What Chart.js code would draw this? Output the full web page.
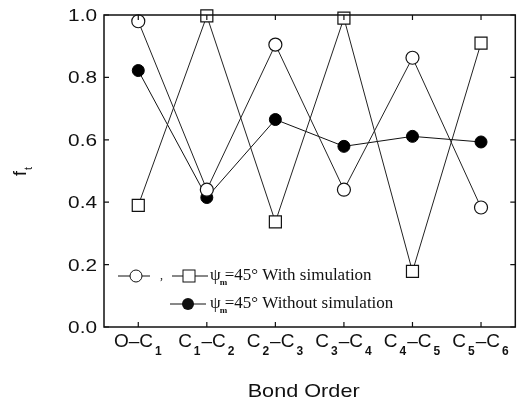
<!DOCTYPE html>
<html>
<head>
<meta charset="utf-8">
<script src="https://cdn.jsdelivr.net/npm/chart.js@4"></script>
<style>
  html, body { margin: 0; padding: 0; background: #fff; }
  #wrap { width: 525px; height: 403px; position: relative; }
</style>
</head>
<body>
<div id="wrap"><canvas id="ftChart"></canvas></div>
<script>
// bond positions along the chain
const bonds = ['O–C₁', 'C₁–C₂', 'C₂–C₃', 'C₃–C₄', 'C₄–C₅', 'C₅–C₆'];
// psi_m = 45 deg, with simulation (two branches: circles and squares)
const simCircles = [0.98, 0.44, 0.905, 0.44, 0.863, 0.383];
const simSquares = [0.39, 0.997, 0.337, 0.99, 0.178, 0.91];
// psi_m = 45 deg, without simulation
const noSim = [0.822, 0.415, 0.665, 0.579, 0.611, 0.593];
const yTicks = [0, 0.2, 0.4, 0.6, 0.8, 1.0];
const xTitle = 'Bond Order';

const sans = "'Liberation Sans', Arial, sans-serif";
const serif = "'Liberation Serif', 'Times New Roman', serif";
const subDigits = '₀₁₂₃₄₅₆₇₈₉';

// split "C₁–C₂" into normal and subscript runs
function splitLabel(str) {
    const parts = [];
    for (const ch of str) {
        const k = subDigits.indexOf(ch);
        const sub = k >= 0;
        const c = sub ? String(k) : ch;
        const last = parts[parts.length - 1];
        if (last && last.sub === sub) last.text += c;
        else parts.push({ text: c, sub });
    }
    return parts;
}

// text squeezed/stretched horizontally around its anchor
function wideText(ctx, text, x, y, sx) {
    ctx.save();
    ctx.translate(x, y);
    ctx.scale(sx, 1);
    ctx.fillText(text, 0, 0);
    ctx.restore();
}

// box around the plot with inward tick marks, plus axis text
const framePlugin = {
    id: 'frame',
    afterDraw(chart) {
        const { ctx, chartArea: a, scales } = chart;
        ctx.save();
        ctx.strokeStyle = '#111';
        ctx.lineWidth = 1.5;
        ctx.strokeRect(a.left, a.top, a.right - a.left, a.bottom - a.top);
        ctx.lineWidth = 1.2;
        ctx.beginPath();
        yTicks.forEach(v => {
            const y = scales.y.getPixelForValue(v);
            ctx.moveTo(a.left, y); ctx.lineTo(a.left + 5, y);
            ctx.moveTo(a.right, y); ctx.lineTo(a.right - 5, y);
        });
        bonds.forEach((b, i) => {
            const x = scales.x.getPixelForValue(i);
            ctx.moveTo(x, a.top); ctx.lineTo(x, a.top + 5);
            ctx.moveTo(x, a.bottom); ctx.lineTo(x, a.bottom - 5);
        });
        ctx.stroke();

        ctx.fillStyle = '#111';
        ctx.textBaseline = 'alphabetic';

        // y tick labels
        ctx.font = '16px ' + sans;
        ctx.textAlign = 'right';
        yTicks.forEach(v => {
            const y = scales.y.getPixelForValue(v);
            wideText(ctx, v.toFixed(1), a.left - 7, y + 6, 1.3);
        });

        // x tick labels with subscripts
        ctx.textAlign = 'left';
        bonds.forEach((b, i) => {
            const parts = splitLabel(b);
            let w = 0;
            parts.forEach(p => {
                ctx.font = p.sub ? 'bold 12px ' + sans : '19px ' + sans;
                p.w = ctx.measureText(p.text).width + (p.sub ? 3 : 0);
                w += p.w;
            });
            let x = scales.x.getPixelForValue(i) - w / 2;
            parts.forEach(p => {
                ctx.font = p.sub ? 'bold 12px ' + sans : '19px ' + sans;
                ctx.fillText(p.text, p.sub ? x + 2 : x, p.sub ? a.bottom + 28 : a.bottom + 20);
                x += p.w;
            });
        });

        // x axis title
        ctx.font = '19px ' + sans;
        ctx.textAlign = 'center';
        wideText(ctx, xTitle, (a.left + a.right) / 2 - 6, a.bottom + 70, 1.14);

        // y axis title f_t, rotated
        ctx.textAlign = 'left';
        ctx.translate(26, 176);
        ctx.rotate(-Math.PI / 2);
        ctx.font = '18px ' + sans;
        ctx.fillText('f', 0, 0);
        ctx.font = '11px ' + sans;
        ctx.fillText('t', 6, 6);
        ctx.restore();
    }
};

// legend drawn inside the plot
const legendPlugin = {
    id: 'innerLegend',
    afterDraw(chart) {
        const { ctx, chartArea: a } = chart;
        ctx.save();
        ctx.strokeStyle = '#111';
        ctx.fillStyle = '#111';
        ctx.lineWidth = 1;

        function psiText(x, y, rest) {
            ctx.font = '17px ' + serif;
            ctx.textBaseline = 'middle';
            ctx.fillText('ψ', x, y);
            const w = ctx.measureText('ψ').width;
            ctx.font = 'bold 9px ' + serif;
            ctx.fillText('m', x + w - 1, y + 7);
            ctx.font = '17px ' + serif;
            ctx.fillText(rest, x + w + 4, y);
        }

        // first row: open circle and open square
        let y = a.top + 261;
        ctx.beginPath();
        ctx.moveTo(a.left + 14, y); ctx.lineTo(a.left + 46, y);
        ctx.moveTo(a.left + 68, y); ctx.lineTo(a.left + 104, y);
        ctx.stroke();
        ctx.fillStyle = '#fff';
        ctx.beginPath();
        ctx.arc(a.left + 32, y, 6, 0, Math.PI * 2);
        ctx.fill(); ctx.stroke();
        ctx.fillRect(a.left + 79, y - 6, 12, 12);
        ctx.strokeRect(a.left + 79, y - 6, 12, 12);
        ctx.fillStyle = '#111';
        ctx.font = '12px ' + serif;
        ctx.textBaseline = 'middle';
        ctx.fillText(',', a.left + 56, y);
        psiText(a.left + 106, y, '=45° With simulation');

        // second row: filled circle
        y = a.top + 289;
        ctx.beginPath();
        ctx.moveTo(a.left + 66, y); ctx.lineTo(a.left + 102, y);
        ctx.stroke();
        ctx.beginPath();
        ctx.arc(a.left + 84, y, 6, 0, Math.PI * 2);
        ctx.fill();
        psiText(a.left + 106, y, '=45° Without simulation');
        ctx.restore();
    }
};

const ctx = document.getElementById('ftChart').getContext('2d');
new Chart(ctx, {
    type: 'line',
    data: {
        labels: bonds,
        datasets: [
            {
                label: 'ψm=45° With simulation',
                data: simCircles,
                borderColor: '#222',
                borderWidth: 1,
                pointStyle: 'circle',
                pointRadius: 6.5,
                pointBackgroundColor: '#fff',
                pointBorderColor: '#111',
                pointBorderWidth: 1.2,
                clip: false
            },
            {
                label: 'ψm=45° With simulation',
                data: simSquares,
                borderColor: '#222',
                borderWidth: 1,
                pointStyle: 'rect',
                pointRadius: 8.5,
                pointBackgroundColor: '#fff',
                pointBorderColor: '#111',
                pointBorderWidth: 1.2,
                clip: false
            },
            {
                label: 'ψm=45° Without simulation',
                data: noSim,
                borderColor: '#111',
                borderWidth: 1,
                pointStyle: 'circle',
                pointRadius: 6,
                pointBackgroundColor: '#000',
                pointBorderColor: '#000',
                clip: false
            }
        ]
    },
    options: {
        responsive: true,
        maintainAspectRatio: false,
        animation: false,
        layout: { padding: { top: 15, right: 8, left: 0, bottom: 0 } },
        plugins: {
            legend: { display: false },
            tooltip: { enabled: false }
        },
        scales: {
            x: {
                offset: true,
                grid: { display: false, drawTicks: false },
                border: { display: false },
                ticks: { display: false },
                afterFit(scale) { scale.height = 76; }
            },
            y: {
                min: 0,
                max: 1,
                grid: { display: false, drawTicks: false },
                border: { display: false },
                ticks: { display: false, stepSize: 0.2 },
                afterFit(scale) { scale.width = 104; }
            }
        }
    },
    plugins: [framePlugin, legendPlugin]
});
</script>
</body>
</html>
